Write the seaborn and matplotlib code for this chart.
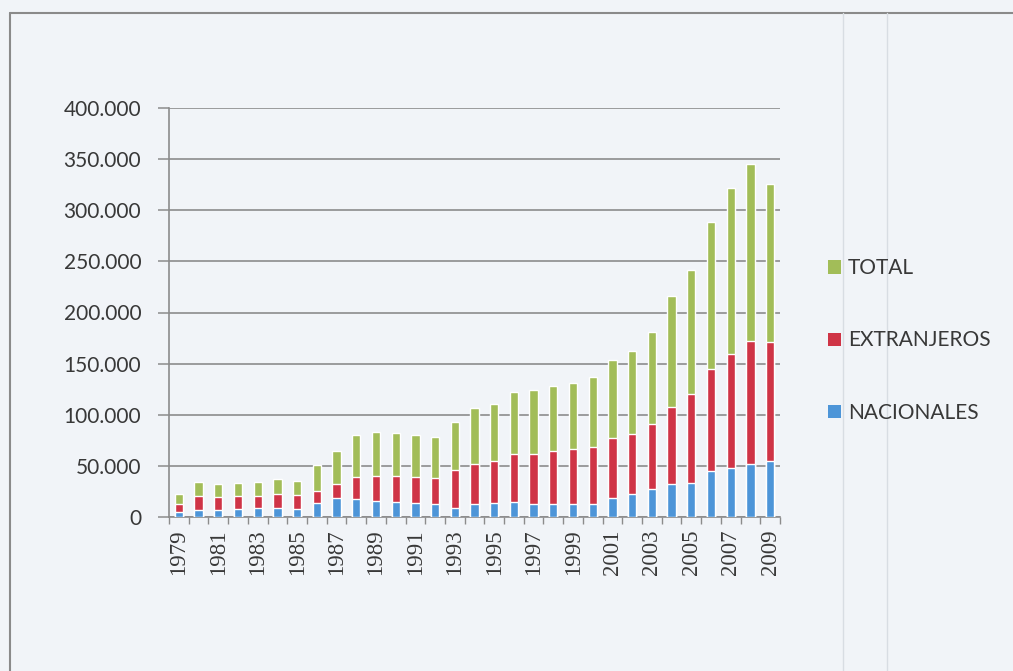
import matplotlib
matplotlib.use("Agg")
import matplotlib.pyplot as plt
import matplotlib.ticker as mticker
from matplotlib.patches import Patch
from matplotlib.lines import Line2D
import seaborn as sns
import numpy as np
import pandas as pd

years = [str(y) for y in range(1979, 2010)]
nacionales = [5.2, 6.5, 6.5, 7.5, 8.5, 9.2, 7.5, 14.1, 18.3, 17.3, 15.7, 15.0, 14.1, 12.4,
              9.2, 12.4, 13.4, 15.0, 12.4, 12.4, 12.4, 13.1, 18.9, 22.9, 27.1, 32.0, 33.7,
              45.1, 48.4, 52.3, 54.9]
extranjeros = [7.9, 14.1, 13.1, 13.1, 12.1, 13.0, 13.7, 11.4, 13.7, 21.9, 24.5, 25.2, 25.1, 26.2,
               36.6, 39.9, 41.5, 46.4, 49.7, 52.3, 53.9, 54.9, 58.6, 57.9, 63.4, 75.5, 86.2,
               99.3, 110.8, 119.9, 116.0]
total = [9.8, 14.0, 12.4, 13.1, 13.7, 15.4, 14.1, 25.5, 32.1, 41.2, 42.5, 41.5, 41.2, 39.2,
         46.7, 54.2, 55.6, 61.1, 62.4, 63.7, 64.4, 69.3, 76.1, 81.9, 90.2, 108.5, 121.3,
         144.2, 163.0, 172.9, 154.6]

k = 1000
df = pd.DataFrame({
    "year": years,
    "c1": np.array(nacionales) * k,
    "c2": (np.array(nacionales) + np.array(extranjeros)) * k,
    "c3": (np.array(nacionales) + np.array(extranjeros) + np.array(total)) * k,
})

c_green = "#a2bd58"
c_red = "#cf3446"
c_blue = "#4d95d8"
txt = "#383838"
bg = "#f1f4f8"

sns.set_theme(style="white")
plt.rcParams["font.family"] = ["Lato", "DejaVu Sans"]

fig = plt.figure(figsize=(10.13, 6.71), dpi=100, facecolor=bg)
ax = fig.add_axes([169 / 1013, 1 - 517 / 671, (780 - 169) / 1013, (517 - 108) / 671])
ax.set_facecolor(bg)

w = 0.42
sns.barplot(data=df, x="year", y="c3", order=years, color=c_green, width=w, saturation=1, ax=ax, zorder=3)
sns.barplot(data=df, x="year", y="c2", order=years, color=c_red, width=w, saturation=1, ax=ax, zorder=3)
sns.barplot(data=df, x="year", y="c1", order=years, color=c_blue, width=w, saturation=1, ax=ax, zorder=3)

ax.set_xlim(-0.5, len(years) - 0.5)
ax.set_ylim(0, 400000)
ax.set_yticks(np.arange(0, 400001, 50000))
ax.yaxis.set_major_formatter(mticker.FuncFormatter(lambda v, p: f"{int(v):,}".replace(",", ".")))
ax.grid(axis="y", color="#8c8c8c", linewidth=1.2, zorder=0)
ax.set_axisbelow(True)
ax.set_xlabel("")
ax.set_ylabel("")

for s in ["top", "right"]:
    ax.spines[s].set_visible(False)
ax.spines["left"].set_color("#8c8c8c")
ax.spines["left"].set_linewidth(1.2)
ax.spines["bottom"].set_color("#8c8c8c")
ax.spines["bottom"].set_linewidth(1.2)

ax.tick_params(axis="y", which="major", left=True, length=8, width=1.1, color="#8c8c8c",
               pad=12, labelsize=15, labelcolor=txt)

ax.set_xticks(range(0, len(years), 2))
ax.set_xticklabels(years[::2], rotation=90, fontfamily="Liberation Serif", fontsize=16.5, color=txt)
ax.set_xticks(np.arange(-0.5, len(years), 1), minor=True)
ax.tick_params(axis="x", which="major", bottom=False, length=0, pad=9)
ax.tick_params(axis="x", which="minor", bottom=True, length=5, width=1.0, color="#8c8c8c")

handles = [Patch(facecolor=c_green, edgecolor="none"),
           Patch(facecolor=c_red, edgecolor="none"),
           Patch(facecolor=c_blue, edgecolor="none")]
labels = ["TOTAL", "EXTRANJEROS", "NACIONALES"]
leg = fig.legend(handles, labels, loc="upper left", bbox_to_anchor=(818 / 1013, 1 - 248 / 671),
                 frameon=False, fontsize=15, labelspacing=2.5, handlelength=0.6, handleheight=0.6,
                 handletextpad=0.35, labelcolor=txt, borderpad=0)

# scanned frame lines
fig.add_artist(Line2D([10 / 1013, 1], [1 - 13 / 671, 1 - 13 / 671], transform=fig.transFigure,
                      color="#8a8a8a", linewidth=1.5))
fig.add_artist(Line2D([10 / 1013, 10 / 1013], [0, 1 - 13 / 671], transform=fig.transFigure,
                      color="#8a8a8a", linewidth=1.5))
for xp in [843, 887]:
    fig.add_artist(Line2D([xp / 1013, xp / 1013], [0, 1 - 13 / 671], transform=fig.transFigure,
                          color="#d8dde3", linewidth=1.0))

fig.savefig("out.png", dpi=100, facecolor=bg)
